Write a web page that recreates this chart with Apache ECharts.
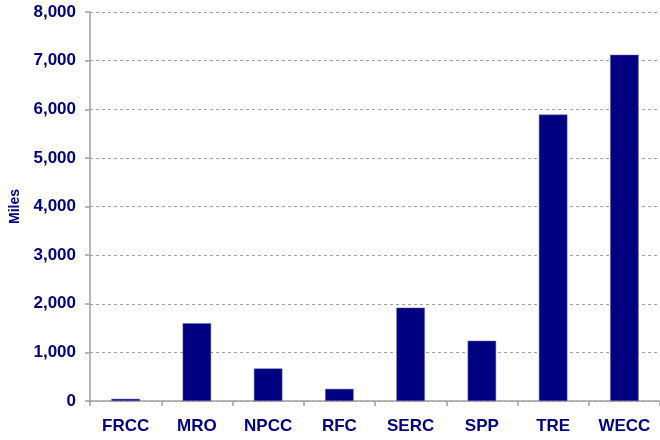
<!DOCTYPE html>
<html>
<head>
<meta charset="utf-8">
<script src="https://cdn.jsdelivr.net/npm/echarts@6/dist/echarts.min.js"></script>
<style>
  html, body { margin: 0; padding: 0; background: #fff; }
  #main { width: 660px; height: 440px; }
</style>
</head>
<body>
<div id="main"></div>
<script>
  // regions and miles
  var regions = ['FRCC', 'MRO', 'NPCC', 'RFC', 'SERC', 'SPP', 'TRE', 'WECC'];
  var miles = [45, 1600, 670, 250, 1920, 1240, 5890, 7120];
  var yTicks = [0, 8000, 1000];

  var navy = '#000080';
  var chart = echarts.init(document.getElementById('main'));
  chart.setOption({
    animation: false,
    grid: {
      left: 89,
      right: 0,
      top: 12,
      bottom: 39,
      containLabel: false
    },
    xAxis: {
      type: 'category',
      data: regions,
      axisLine: { lineStyle: { color: '#a0a0a0', width: 1.5 } },
      axisTick: { show: true, length: 5, lineStyle: { color: '#a0a0a0', width: 1.5 } },
      axisLabel: {
        color: navy,
        fontFamily: 'Liberation Sans, Arial, sans-serif',
        fontWeight: 'bold',
        fontSize: 17,
        margin: 17
      }
    },
    yAxis: {
      type: 'value',
      min: yTicks[0],
      max: yTicks[1],
      interval: yTicks[2],
      name: 'Miles',
      nameLocation: 'middle',
      nameGap: 68,
      nameRotate: 90,
      nameTextStyle: {
        color: navy,
        fontFamily: 'Liberation Sans, Arial, sans-serif',
        fontWeight: 'bold',
        fontSize: 14
      },
      axisLine: { show: true, lineStyle: { color: '#a0a0a0', width: 1.5 } },
      axisTick: { show: true, length: 5, lineStyle: { color: '#a0a0a0', width: 1.5 } },
      axisLabel: {
        color: navy,
        fontFamily: 'Liberation Sans, Arial, sans-serif',
        fontWeight: 'bold',
        fontSize: 17,
        margin: 14,
        formatter: function (v) { return v.toLocaleString('en-US'); }
      },
      splitLine: {
        show: true,
        lineStyle: { color: '#a0a0a0', type: [3, 3], width: 1 }
      }
    },
    series: [
      {
        type: 'bar',
        data: miles,
        barWidth: '40%',
        itemStyle: {
          color: navy,
          borderColor: '#6a6ab8',
          borderWidth: 0.5
        }
      }
    ]
  });
</script>
</body>
</html>
